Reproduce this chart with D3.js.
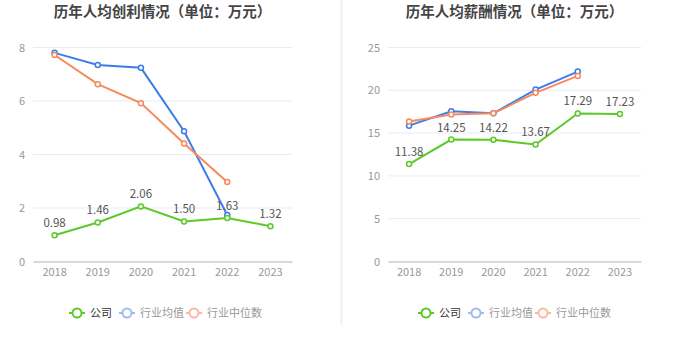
<!DOCTYPE html>
<html>
<head>
<meta charset="utf-8">
<script src="https://cdn.jsdelivr.net/npm/d3@7"></script>
<style>
  body { margin: 0; background: #fff; }
  svg { font-family: "Noto Sans CJK SC", "Noto Sans", sans-serif; }
</style>
</head>
<body>
<div id="chart"></div>
<script>
// data
var years = ["2018", "2019", "2020", "2021", "2022", "2023"];
var seriesNames = ["公司", "行业均值", "行业中位数"];

var profitCompany = [0.98, 1.46, 2.06, 1.50, 1.63, 1.32];
var profitIndustryAvg = [7.80, 7.35, 7.24, 4.87, 1.74];
var profitIndustryMedian = [7.72, 6.63, 5.92, 4.41, 2.97];
var profitTicks = [0, 2, 4, 6, 8];

var payCompany = [11.38, 14.25, 14.22, 13.67, 17.29, 17.23];
var payIndustryAvg = [15.87, 17.55, 17.31, 20.08, 22.19];
var payIndustryMedian = [16.35, 17.16, 17.31, 19.70, 21.68];
var payTicks = [0, 5, 10, 15, 20, 25];

var colors = ["#5cc928", "#3f7ce9", "#f7895e"];
var legendColors = ["#5cc928", "#9dbbf4", "#fbb9a0"];

var svgWidth = 680;
var svgHeight = 349;

var svg = d3.select("#chart")
  .append("svg")
  .attr("width", svgWidth)
  .attr("height", svgHeight);

// divider between the two panels
svg.append("line")
  .attr("x1", 341.5).attr("x2", 341.5)
  .attr("y1", 0).attr("y2", 325)
  .attr("stroke", "#f0f0f0")
  .attr("stroke-width", 2);

function drawPanel(opts) {
  var g = svg.append("g");

  var x = d3.scaleBand()
    .domain(years)
    .range([opts.left, opts.right]);

  var y = d3.scaleLinear()
    .domain([0, d3.max(opts.ticks)])
    .range([261.5, 47.5]);

  // title
  g.append("text")
    .attr("x", (opts.left + opts.right) / 2)
    .attr("y", 16.5)
    .attr("text-anchor", "middle")
    .style("font-size", "14.5px")
    .style("font-weight", "bold")
    .attr("fill", "#444")
    .text(opts.title);

  // grid lines
  g.selectAll(".grid")
    .data(opts.ticks.filter(d => d > 0))
    .enter()
    .append("line")
    .attr("x1", opts.left).attr("x2", opts.right)
    .attr("y1", d => y(d)).attr("y2", d => y(d))
    .attr("stroke", "#e6ebf5")
    .attr("stroke-width", 1);

  // y axis labels
  var leftAxis = d3.axisLeft(y).tickValues(opts.ticks).tickSize(0).tickPadding(8);
  var yAxis = g.append("g")
    .attr("transform", `translate(${opts.left}, 0)`)
    .call(leftAxis);
  yAxis.select(".domain").remove();
  yAxis.selectAll("text")
    .attr("fill", "#999")
    .style("font-size", "11px")
    .style("font-family", "\"Noto Sans CJK SC\", sans-serif");

  // x axis
  var bottomAxis = d3.axisBottom(x).tickSize(0).tickPadding(7);
  var xAxis = g.append("g")
    .attr("transform", "translate(0, 261.5)")
    .call(bottomAxis);
  xAxis.select(".domain")
    .attr("stroke", "#ccc")
    .attr("stroke-width", 1.5);
  xAxis.selectAll("text")
    .attr("fill", "#999")
    .style("font-size", "11px")
    .style("font-family", "\"Noto Sans CJK SC\", sans-serif");

  var cx = (d, i) => x(years[i]) + x.bandwidth() / 2;

  var line = d3.line()
    .x((d, i) => cx(d, i))
    .y(d => y(d));

  // draw industry lines first, company on top
  [opts.series[1], opts.series[2], opts.series[0]].forEach(function(s) {
    g.append("path")
      .datum(s.values)
      .attr("fill", "none")
      .attr("stroke", s.color)
      .attr("stroke-width", 2)
      .attr("d", line);

    g.selectAll(null)
      .data(s.values)
      .enter()
      .append("circle")
      .attr("cx", (d, i) => cx(d, i))
      .attr("cy", d => y(d))
      .attr("r", 2.5)
      .attr("fill", "#fff")
      .attr("stroke", s.color)
      .attr("stroke-width", 1.5);
  });

  // value labels for the company series
  g.selectAll(".vlabel")
    .data(opts.series[0].values)
    .enter()
    .append("text")
    .attr("x", (d, i) => cx(d, i))
    .attr("y", d => y(d) - 8)
    .attr("text-anchor", "middle")
    .attr("fill", "#555")
    .style("font-size", "11.5px")
    .text(d => d.toFixed(2));

  // legend
  var legend = g.append("g")
    .attr("transform", `translate(${opts.legendX}, 313)`);
  var offsets = [0, 50, 117];
  seriesNames.forEach(function(name, i) {
    var item = legend.append("g").attr("transform", `translate(${offsets[i]}, 0)`);
    item.append("line")
      .attr("x1", 0).attr("x2", 16)
      .attr("y1", 0).attr("y2", 0)
      .attr("stroke", legendColors[i])
      .attr("stroke-width", 2);
    item.append("circle")
      .attr("cx", 8).attr("cy", 0)
      .attr("r", 4.5)
      .attr("fill", "#fff")
      .attr("stroke", legendColors[i])
      .attr("stroke-width", 2);
    item.append("text")
      .attr("x", 21)
      .attr("y", 4)
      .attr("fill", i === 0 ? "#333" : "#999")
      .style("font-size", "11px")
      .text(name);
  });
}

drawPanel({
  title: "历年人均创利情况（单位：万元）",
  left: 33, right: 292,
  ticks: profitTicks,
  legendX: 69,
  series: [
    { values: profitCompany, color: colors[0] },
    { values: profitIndustryAvg, color: colors[1] },
    { values: profitIndustryMedian, color: colors[2] }
  ]
});

drawPanel({
  title: "历年人均薪酬情况（单位：万元）",
  left: 388, right: 641,
  ticks: payTicks,
  legendX: 418,
  series: [
    { values: payCompany, color: colors[0] },
    { values: payIndustryAvg, color: colors[1] },
    { values: payIndustryMedian, color: colors[2] }
  ]
});
</script>
</body>
</html>
